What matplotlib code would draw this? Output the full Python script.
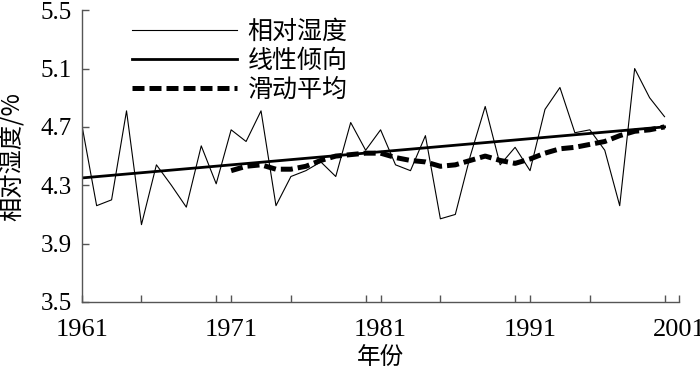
import numpy as np
import matplotlib
matplotlib.use("Agg")
import matplotlib.pyplot as plt
from matplotlib.ticker import MultipleLocator

# data
years = list(range(1961, 2001))
humidity = [4.72, 4.16, 4.20, 4.81, 4.03, 4.44, 4.30, 4.15, 4.57, 4.31,
            4.68, 4.60, 4.81, 4.16, 4.36, 4.40, 4.46, 4.36, 4.73, 4.54,
            4.68, 4.44, 4.40, 4.64, 4.07, 4.10, 4.50, 4.84, 4.44, 4.56,
            4.40, 4.82, 4.97, 4.66, 4.68, 4.54, 4.16, 5.10, 4.90, 4.77]

trend_years = [1961, 2000]
trend_vals = [4.35, 4.70]

ma_years = list(range(1971, 2001))
ma_vals = [4.40, 4.43, 4.44, 4.41, 4.41, 4.43, 4.47, 4.50, 4.51, 4.52,
           4.52, 4.49, 4.47, 4.46, 4.43, 4.44, 4.47, 4.50, 4.47, 4.45,
           4.48, 4.52, 4.55, 4.56, 4.58, 4.60, 4.64, 4.67, 4.68, 4.70]

x_ticks = [1961, 1971, 1981, 1991, 2001]
y_ticks = [3.5, 3.9, 4.3, 4.7, 5.1, 5.5]

cjk = ["Noto Sans CJK SC", "DejaVu Sans"]
serif = "Liberation Serif"


fig = plt.figure(figsize=(7, 3.77), dpi=100)
ax = fig.add_axes([0.1167, 0.199, 0.854, 0.774])

ax.plot(years, humidity, color="black", lw=0.8, label="相对湿度")
ax.plot(trend_years, trend_vals, color="black", lw=2.0, label="线性倾向")
ax.plot(ma_years, ma_vals, color="black", lw=3.6, dashes=(2.4, 1.0),
        label="滑动平均")

ax.set_xlim(1961, 2001)
ax.set_ylim(3.5, 5.5)
ax.set_xticks(x_ticks)
ax.xaxis.set_minor_locator(MultipleLocator(5))
ax.set_yticks(y_ticks)
ax.set_yticklabels([f"{v:.1f}" for v in y_ticks])

for s in ["top", "right"]:
    ax.spines[s].set_visible(False)
for s in ["left", "bottom"]:
    ax.spines[s].set_color("#555555")
    ax.spines[s].set_linewidth(1.0)

ax.tick_params(which="both", direction="in", length=5, width=1.0,
               color="#555555")
ax.tick_params(axis="y", labelsize=18, pad=7)
ax.tick_params(axis="x", labelsize=19, pad=12)
for lab in ax.get_xticklabels() + ax.get_yticklabels():
    lab.set_fontfamily(serif)

ax.set_xlabel("年份", fontsize=17, family=cjk, labelpad=4)
ax.set_ylabel("相对湿度/%", fontsize=17.5, family=cjk)
ax.yaxis.set_label_coords(-0.093, 0.5)

leg = ax.legend(loc="upper left", bbox_to_anchor=(0.157, 1.01, 0, 0),
                bbox_transform=fig.transFigure, frameon=False,
                handlelength=4.2, handletextpad=0.4, labelspacing=0.12,
                prop={"family": cjk, "size": 18})

fig.savefig("out.png", dpi=100)
plt.close(fig)
